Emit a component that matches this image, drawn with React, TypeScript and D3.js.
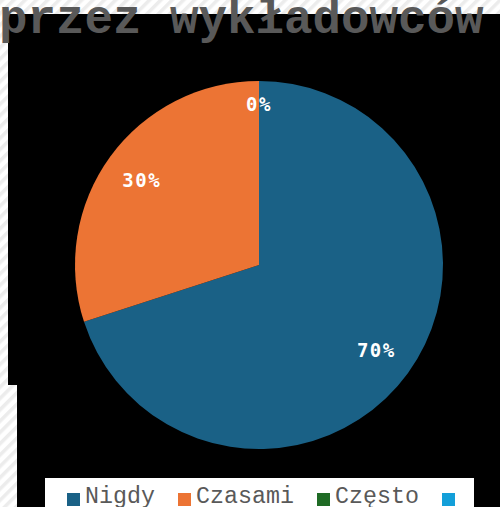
import React from "react";
import * as d3 from "d3";

const categories = ["Nigdy", "Czasami", "Często", ""];
const values = [70, 30, 0, 0];
const colors = ["#1a6186", "#ec7434", "#1f6b25", "#139fd9"];
const title = "przez wykładowców";

export default function App() {
  const W = 500, H = 507;
  const cx = 259, cy = 265, r = 184;
  const pie = d3.pie<number>().sort(null).value((d) => d);
  const arcs = pie(values);
  const arc = d3.arc<d3.PieArcDatum<number>>().innerRadius(0).outerRadius(r);
  const labelArc = d3.arc<d3.PieArcDatum<number>>().innerRadius(145).outerRadius(145);
  const zeroArc = d3.arc<d3.PieArcDatum<number>>().innerRadius(161).outerRadius(161);
  const total = d3.sum(values);
  const legendX = [67, 178, 317, 442];

  return (
    <svg width={W} height={H} style={{ position: "absolute", left: 0, top: 0 }}>
      <defs>
        <pattern id="stripes" width="8" height="8" patternUnits="userSpaceOnUse" patternTransform="rotate(45)">
          <rect width="8" height="8" fill="#ffffff" />
          <rect width="3.5" height="8" fill="#ececec" />
        </pattern>
      </defs>
      <rect width={W} height={H} fill="url(#stripes)" />
      <rect x={8} y={14} width={W - 8} height={371} fill="#000" />
      <rect x={17} y={384} width={W - 17} height={H - 384} fill="#000" />
      <text x={-1} y={33} fontFamily="'Liberation Mono', 'Courier New', monospace" fontWeight="bold" fontSize={47.5} fill="#595959">
        {title}
      </text>
      <g transform={`translate(${cx},${cy})`}>
        {arcs.map((a, i) =>
          a.value > 0 ? <path key={i} d={arc(a) || ""} fill={colors[i]} /> : null
        )}
        {arcs.slice(0, 3).map((a, i) => {
          const [x, y] = a.value > 0 ? labelArc.centroid(a) : zeroArc.centroid(a);
          return (
            <text key={i} x={x} y={y} dy="0.36em" textAnchor="middle" fill="#fff"
              fontFamily="'DejaVu Sans Mono', monospace" fontWeight="bold" fontSize={19} letterSpacing={1.5}>
              {Math.round((a.value / total) * 100)}%
            </text>
          );
        })}
      </g>
      <rect x={45} y={478} width={429} height={40} fill="#fff" />
      {categories.map((c, i) => (
        <g key={i}>
          <rect x={legendX[i]} y={493} width={13} height={13} fill={colors[i]} />
          <text x={legendX[i] + 18} y={503} fontFamily="'Liberation Mono', 'Courier New', monospace" fontSize={23.3} fill="#595959">
            {c}
          </text>
        </g>
      ))}
    </svg>
  );
}
